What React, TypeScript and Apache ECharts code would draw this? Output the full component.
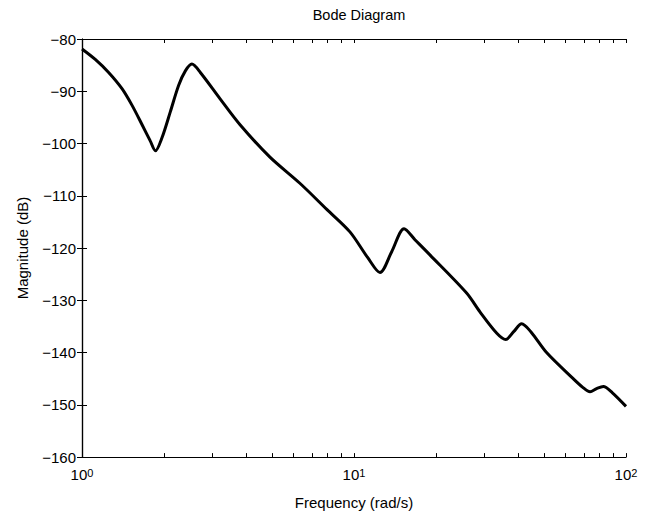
import React, { useEffect, useRef } from "react";
import * as echarts from "echarts";

const freq = [
  1.0, 1.119, 1.253, 1.403, 1.528, 1.663, 1.782, 1.862, 1.968, 2.113, 2.265, 2.399, 2.535, 2.723, 3.214,
  3.811, 4.909, 6.324, 7.943, 9.661, 11.22, 12.46, 13.76, 15.28, 16.75, 19.01, 25.94, 29.04, 33.5, 36.14,
  38.64, 41.35, 44.67, 51.05, 63.97, 69.18, 73.74, 77.98, 82.53, 89.13, 100.0,
];
const magnitude = [
  -81.9, -83.9, -86.4, -89.5, -92.7, -96.4, -99.5, -101.4, -98.9, -93.9, -88.9, -86.1, -84.8, -86.4, -91.4,
  -96.4, -102.6, -107.6, -112.6, -116.9, -121.8, -124.7, -120.7, -116.3, -118.4, -121.3, -128.6, -132.2,
  -136.3, -137.5, -136.0, -134.5, -136.0, -140.0, -145.0, -146.6, -147.5, -146.9, -146.5, -147.7, -150.3,
];
const yTicks = [-160, -150, -140, -130, -120, -110, -100, -90, -80];
const xDecades = [0, 1, 2];
const minorMultipliers = [2, 3, 4, 5, 6, 7, 8, 9];

const FONT = "'Liberation Sans', Arial, Helvetica, sans-serif";

export default function App() {
  const ref = useRef<HTMLDivElement>(null);
  useEffect(() => {
    if (!ref.current) return;
    const chart = echarts.init(ref.current, null, { renderer: "svg" });
    const tickVals: number[] = [];
    for (let d = 0; d < xDecades.length; d++) {
      tickVals.push(xDecades[d]);
      if (d < xDecades.length - 1) {
        for (const m of minorMultipliers) tickVals.push(xDecades[d] + Math.log10(m));
      }
    }
    const data = freq.map((f, i) => [Math.log10(f), magnitude[i]]);
    const axisLine = { show: true, lineStyle: { color: "#000", width: 1.2 } };
    const tickStyle = { lineStyle: { color: "#000", width: 1 } };
    const xBase = {
      type: "value" as const,
      min: 0,
      max: 2,
      splitLine: { show: false },
      axisLine,
    };
    const yBase = {
      type: "value" as const,
      min: -160,
      max: -80,
      interval: 10,
      splitLine: { show: false },
      axisLine,
    };
    chart.setOption({
      animation: false,
      textStyle: { fontFamily: FONT },
      title: {
        text: "Bode Diagram",
        left: 354,
        textAlign: "center",
        top: 2,
        textStyle: { fontSize: 14.5, fontWeight: "normal", color: "#000", fontFamily: FONT },
      },
      grid: { left: 82, right: 22, top: 39, bottom: 48 },
      xAxis: [
        {
          ...xBase,
          position: "bottom",
          name: "Frequency (rad/s)",
          nameLocation: "middle",
          nameGap: 30,
          nameTextStyle: { fontSize: 15, color: "#000", fontFamily: FONT },
          axisTick: { show: true, inside: true, length: 4, customValues: tickVals, ...tickStyle },
          axisLabel: {
            show: true,
            customValues: xDecades,
            margin: 10,
            color: "#000",
            fontFamily: FONT,
            formatter: (v: number) => `{b|10}{s|${Math.round(v)}}`,
            rich: {
              b: { fontSize: 15, fontFamily: FONT, color: "#000", verticalAlign: "bottom", lineHeight: 15 },
              s: { fontSize: 11, fontFamily: FONT, color: "#000", verticalAlign: "top", lineHeight: 11, padding: [0, 0, 12, 0] },
            },
          },
        },
        {
          ...xBase,
          position: "top",
          axisTick: { show: true, inside: true, length: 4, customValues: tickVals, ...tickStyle },
          axisLabel: { show: false },
        },
      ],
      yAxis: [
        {
          ...yBase,
          position: "left",
          name: "Magnitude (dB)",
          nameLocation: "middle",
          nameGap: 52,
          nameTextStyle: { fontSize: 15, color: "#000", fontFamily: FONT },
          axisTick: { show: true, inside: true, length: 5, ...tickStyle },
          axisLabel: {
            show: true,
            margin: 6,
            color: "#000",
            fontSize: 15,
            fontFamily: FONT,
            customValues: yTicks,
            formatter: (v: number) => (v < 0 ? "\u2212" + Math.abs(v) : String(v)),
          },
        },
        {
          ...yBase,
          position: "right",
          axisTick: { show: true, inside: true, length: 5, ...tickStyle },
          axisLabel: { show: false },
        },
      ],
      series: [
        {
          type: "line",
          data,
          xAxisIndex: 0,
          yAxisIndex: 0,
          showSymbol: false,
          smooth: 0.3,
          lineStyle: { color: "#000", width: 3 },
          clip: true,
        },
      ],
    });
    return () => chart.dispose();
  }, []);
  return (
    <div
      ref={ref}
      style={{ position: "fixed", left: 0, top: 0, width: 648, height: 515, background: "#fff" }}
    />
  );
}
